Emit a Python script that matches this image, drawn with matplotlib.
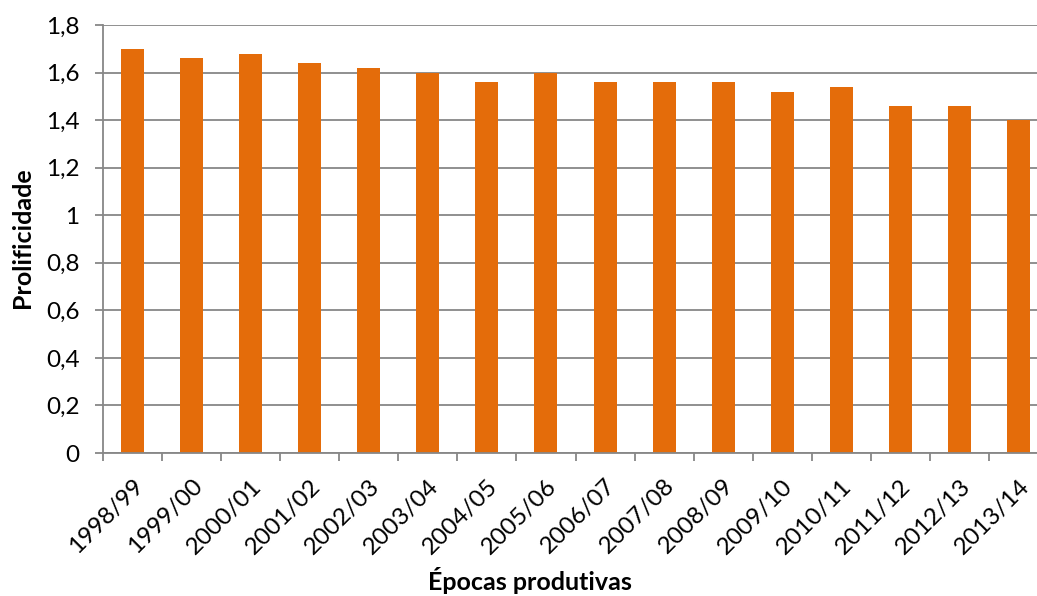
import matplotlib
matplotlib.use("Agg")
import matplotlib.pyplot as plt
from matplotlib.ticker import FixedLocator, FuncFormatter
from matplotlib.transforms import ScaledTranslation
import numpy as np

plt.rcParams['font.family'] = ['Lato', 'DejaVu Sans']

epocas = ["1998/99", "1999/00", "2000/01", "2001/02", "2002/03", "2003/04",
          "2004/05", "2005/06", "2006/07", "2007/08", "2008/09", "2009/10",
          "2010/11", "2011/12", "2012/13", "2013/14"]
prolificidade = [1.70, 1.66, 1.68, 1.64, 1.62, 1.60, 1.56, 1.60, 1.56, 1.56,
                 1.56, 1.52, 1.54, 1.46, 1.46, 1.40]
y_ticks = [0, 0.2, 0.4, 0.6, 0.8, 1.0, 1.2, 1.4, 1.6, 1.8]

W, H = 1037, 596
fig = plt.figure(figsize=(W / 100, H / 100), dpi=100)
left, right, top, bottom = 103, 1048, 25, 453
ax = fig.add_axes([left / W, 1 - bottom / H, (right - left) / W, (bottom - top) / H])

grid_col = "#878787"
x = np.arange(len(epocas))
ax.bar(x, prolificidade, width=0.39, color="#E46C0A", zorder=3)

ax.set_xlim(-0.5, len(epocas) - 0.5)
ax.set_ylim(0, 1.8)
ax.yaxis.set_major_locator(FixedLocator(y_ticks))
ax.yaxis.set_major_formatter(FuncFormatter(
    lambda v, p: "0" if v == 0 else ("1" if abs(v - 1) < 1e-9 else f"{v:.1f}".replace(".", ","))))
ax.grid(axis="y", color=grid_col, linewidth=1.3, zorder=0)

# category boundary ticks on x, labels at centers
ax.set_xticks(np.arange(len(epocas) + 1) - 0.5)
ax.set_xticklabels([])
ax.set_xticks(x, minor=True)
ax.set_xticklabels(epocas, minor=True, rotation=45, ha="right",
                   rotation_mode="anchor", fontsize=17.5)
shift = ScaledTranslation(5 / 100, -4 / 100, fig.dpi_scale_trans)
for lbl in ax.get_xticklabels(minor=True):
    lbl.set_transform(lbl.get_transform() + shift)
ax.tick_params(axis="x", which="major", length=5.8, width=1.3, color=grid_col, direction="out")
ax.tick_params(axis="x", which="minor", length=0, pad=16)
ax.tick_params(axis="y", length=5.8, width=1.3, color=grid_col, labelsize=17.5, pad=11)

for s in ["top", "right"]:
    ax.spines[s].set_visible(False)
for s in ["left", "bottom"]:
    ax.spines[s].set_color(grid_col)
    ax.spines[s].set_linewidth(1.3)
    ax.spines[s].set_zorder(4)

fig.text(23 / W, 1 - 238 / H, "Prolificidade", rotation=90, ha="center", va="center",
         fontsize=18, fontweight="bold")
fig.text(530 / W, 1 - 580 / H, "Épocas produtivas", ha="center", va="center",
         fontsize=18, fontweight="bold")

fig.savefig("out.png", dpi=100)
